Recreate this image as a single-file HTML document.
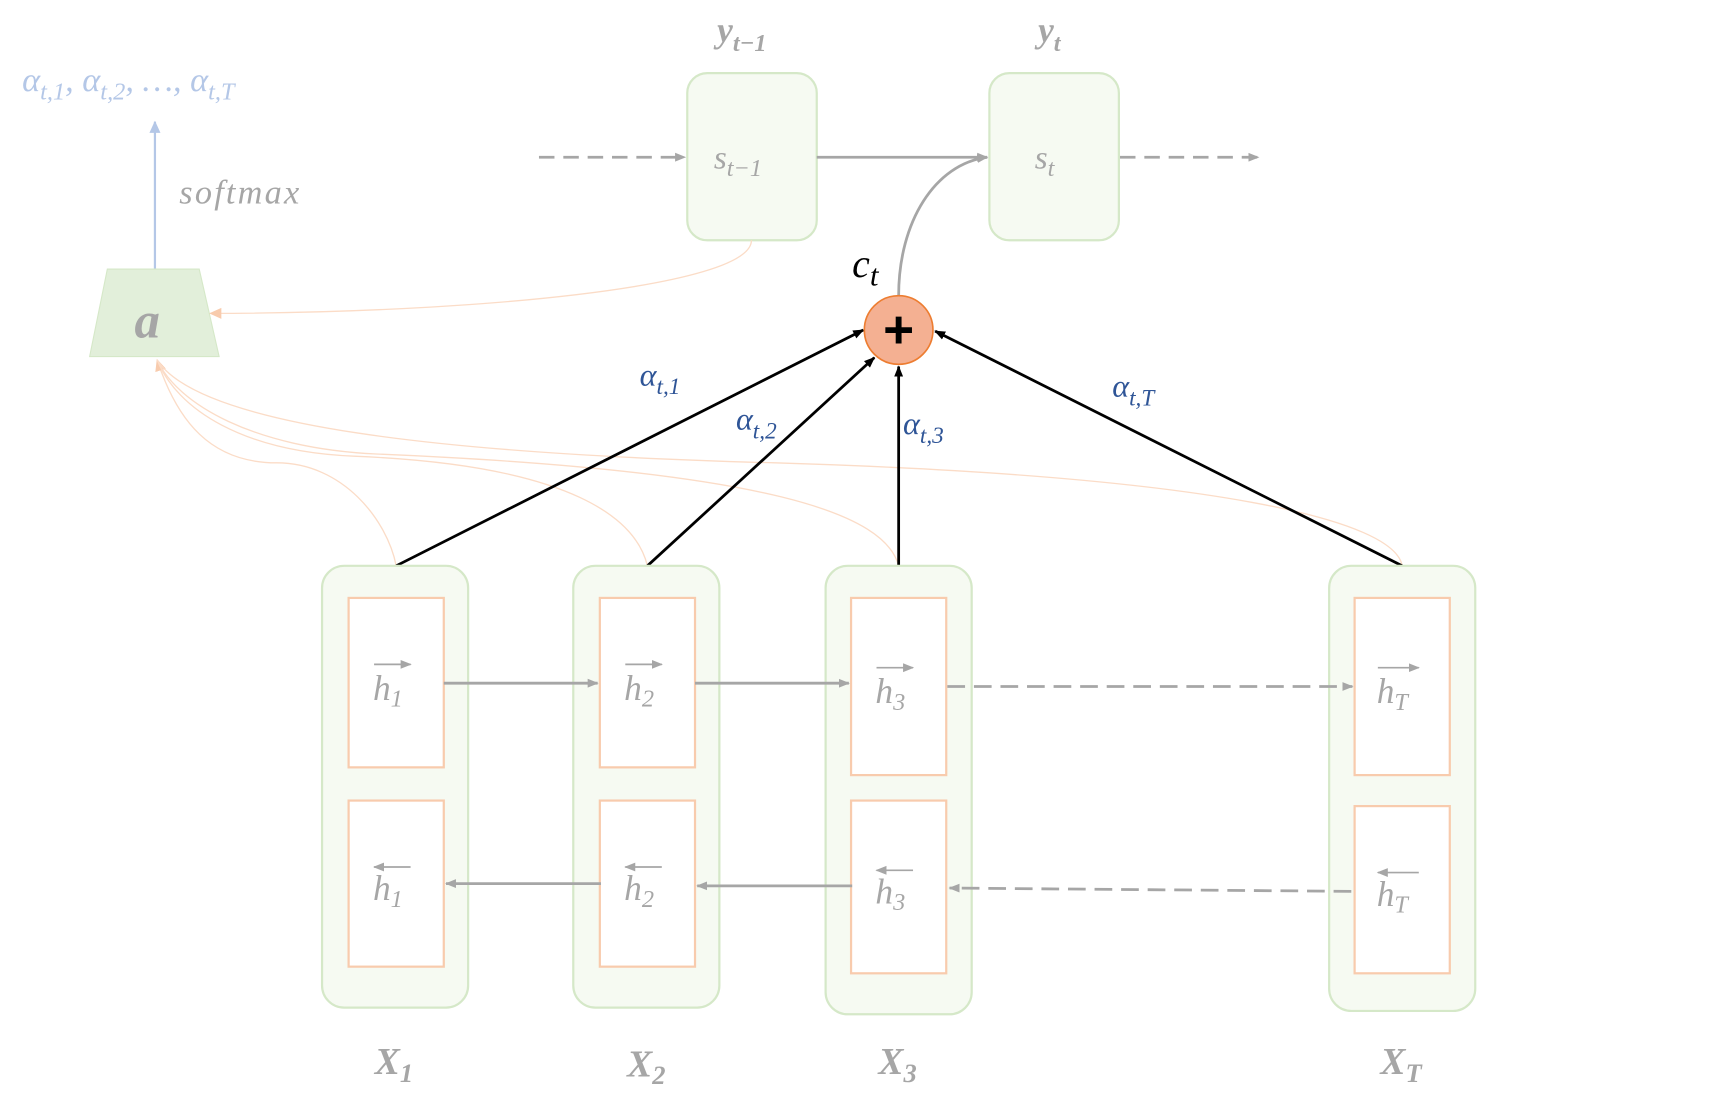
<!DOCTYPE html>
<html><head><meta charset="utf-8"><style>
html,body{margin:0;padding:0;background:#fff;}
svg{display:block;}
text{font-family:"Liberation Serif",serif;font-style:italic;}
</style></head><body>
<svg width="1732" height="1094" viewBox="0 0 1565 988" preserveAspectRatio="none" xmlns="http://www.w3.org/2000/svg">
<defs>
<marker id="ag" markerWidth="10" markerHeight="10" refX="9" refY="5" orient="auto" markerUnits="userSpaceOnUse"><path d="M0,1 L10,5 L0,9 z" fill="#a6a6a6"/></marker>
<marker id="ab" markerWidth="10" markerHeight="10" refX="9" refY="5" orient="auto" markerUnits="userSpaceOnUse"><path d="M0,1 L10,5 L0,9 z" fill="#000"/></marker>
<marker id="ao" markerWidth="12" markerHeight="12" refX="10" refY="6" orient="auto" markerUnits="userSpaceOnUse"><path d="M0,1 L11,6 L0,11 z" fill="#f8cbad"/></marker>
<marker id="al" markerWidth="12" markerHeight="12" refX="10" refY="6" orient="auto" markerUnits="userSpaceOnUse"><path d="M0,1 L11,6 L0,11 z" fill="#b4c7e7"/></marker>
</defs>

<text x="20" y="82" font-size="31" fill="#b4c7e7">α<tspan font-size="22" dy="8">t,1</tspan><tspan dy="-8">, α</tspan><tspan font-size="22" dy="8">t,2</tspan><tspan dy="-8">, …, α</tspan><tspan font-size="22" dy="8">t,T</tspan></text>
<line x1="140" y1="243" x2="140" y2="110" stroke="#b4c7e7" stroke-width="2" marker-end="url(#al)"/>
<text x="162" y="184" font-size="31" fill="#a6a6a6" letter-spacing="2">softmax</text>
<polygon points="97,243 180,243 198,322 81,322" fill="#e2efda" stroke="#d5e8c8"/>
<text x="133" y="305" font-size="46" font-weight="bold" fill="#a6a6a6" text-anchor="middle">a</text>

<rect x="621" y="66" width="117" height="151" rx="18" fill="#f6faf2" stroke="#d5e8c8" stroke-width="2"/>
<rect x="894" y="66" width="117" height="151" rx="18" fill="#f6faf2" stroke="#d5e8c8" stroke-width="2"/>
<text x="645" y="152" font-size="30" fill="#a6a6a6">s<tspan font-size="22" dy="7">t−1</tspan></text>
<text x="935" y="152" font-size="30" fill="#a6a6a6">s<tspan font-size="22" dy="7">t</tspan></text>
<text x="648" y="38" font-size="32" font-weight="bold" fill="#a6a6a6">y<tspan font-size="22" dy="8">t−1</tspan></text>
<text x="938" y="38" font-size="32" font-weight="bold" fill="#a6a6a6">y<tspan font-size="22" dy="8">t</tspan></text>
<line x1="487" y1="142" x2="619" y2="142" stroke="#a6a6a6" stroke-width="2.5" stroke-dasharray="14,8" marker-end="url(#ag)"/>
<line x1="738" y1="142" x2="892" y2="142" stroke="#a6a6a6" stroke-width="2.5" marker-end="url(#ag)"/>
<line x1="1012" y1="142" x2="1137" y2="142" stroke="#a6a6a6" stroke-width="2.5" stroke-dasharray="14,8" marker-end="url(#ag)"/>
<path d="M812,267 C812,200 845,148 892,142" fill="none" stroke="#a6a6a6" stroke-width="2.5" marker-end="url(#ag)"/>

<g fill="none" stroke="#fbdcc7" stroke-width="1.2">
<path d="M679,217 C679,260 420,283 190,283" marker-end="url(#ao)"/>
<path d="M358,511 C350,470 310,418 250,418 C190,418 160,380 142,325" marker-end="url(#ao)"/>
<path d="M585,511 C575,470 520,420 320,412 C220,408 160,370 142,325"/>
<path d="M812,511 C800,465 700,425 340,410 C230,405 160,365 142,325"/>
<path d="M1267,511 C1260,470 1100,430 700,418 C400,410 180,385 142,325"/>
</g>

<line x1="358" y1="511" x2="780" y2="298" stroke="#000" stroke-width="2.5" marker-end="url(#ab)"/>
<line x1="585" y1="511" x2="790" y2="323" stroke="#000" stroke-width="2.5" marker-end="url(#ab)"/>
<line x1="812" y1="511" x2="812" y2="331" stroke="#000" stroke-width="2.5" marker-end="url(#ab)"/>
<line x1="1267" y1="511" x2="845" y2="299" stroke="#000" stroke-width="2.5" marker-end="url(#ab)"/>

<circle cx="812" cy="298" r="31" fill="#f4b092" stroke="#ed7d31" stroke-width="1.5"/>
<text x="812" y="314" font-size="48" font-weight="bold" fill="#000" text-anchor="middle" style="font-family:'Liberation Sans',sans-serif;font-style:normal">+</text>
<text x="770" y="250" font-size="36" fill="#000">c<tspan font-size="28" dy="8">t</tspan></text>

<text x="578" y="348" font-size="29" fill="#2f5597">α<tspan font-size="21" dy="8">t,1</tspan></text>
<text x="665" y="388" font-size="29" fill="#2f5597">α<tspan font-size="21" dy="8">t,2</tspan></text>
<text x="816" y="392" font-size="29" fill="#2f5597">α<tspan font-size="21" dy="8">t,3</tspan></text>
<text x="1005" y="358" font-size="29" fill="#2f5597">α<tspan font-size="21" dy="8">t,T</tspan></text>

<g fill="#f6faf2" stroke="#d5e8c8" stroke-width="2">
<rect x="291" y="511" width="132" height="399" rx="20"/>
<rect x="518" y="511" width="132" height="399" rx="20"/>
<rect x="746" y="511" width="132" height="405" rx="20"/>
<rect x="1201" y="511" width="132" height="402" rx="20"/>
</g>
<g fill="#fff" stroke="#f8cbad" stroke-width="2">
<rect x="315" y="540" width="86" height="153"/><rect x="315" y="723" width="86" height="150"/>
<rect x="542" y="540" width="86" height="153"/><rect x="542" y="723" width="86" height="150"/>
<rect x="769" y="540" width="86" height="160"/><rect x="769" y="723" width="86" height="156"/>
<rect x="1224" y="540" width="86" height="160"/><rect x="1224" y="728" width="86" height="151"/>
</g>
<g fill="#a6a6a6" font-size="32">
<text x="337" y="632">h<tspan font-size="22" dy="6">1</tspan></text>
<text x="564" y="632">h<tspan font-size="22" dy="6">2</tspan></text>
<text x="791" y="635">h<tspan font-size="22" dy="6">3</tspan></text>
<text x="1244" y="635">h<tspan font-size="22" dy="6">T</tspan></text>
<text x="337" y="813">h<tspan font-size="22" dy="6">1</tspan></text>
<text x="564" y="813">h<tspan font-size="22" dy="6">2</tspan></text>
<text x="791" y="816">h<tspan font-size="22" dy="6">3</tspan></text>
<text x="1244" y="818">h<tspan font-size="22" dy="6">T</tspan></text>
</g>
<g stroke="#a6a6a6" stroke-width="1.5">
<line x1="338" y1="600" x2="371" y2="600" marker-end="url(#ag)"/>
<line x1="565" y1="600" x2="598" y2="600" marker-end="url(#ag)"/>
<line x1="792" y1="603" x2="825" y2="603" marker-end="url(#ag)"/>
<line x1="1245" y1="603" x2="1282" y2="603" marker-end="url(#ag)"/>
<line x1="371" y1="783" x2="338" y2="783" marker-end="url(#ag)"/>
<line x1="598" y1="783" x2="565" y2="783" marker-end="url(#ag)"/>
<line x1="825" y1="786" x2="792" y2="786" marker-end="url(#ag)"/>
<line x1="1282" y1="788" x2="1245" y2="788" marker-end="url(#ag)"/>
</g>
<line x1="401" y1="617" x2="540" y2="617" stroke="#a6a6a6" stroke-width="2.5" marker-end="url(#ag)"/>
<line x1="628" y1="617" x2="767" y2="617" stroke="#a6a6a6" stroke-width="2.5" marker-end="url(#ag)"/>
<line x1="856" y1="620" x2="1222" y2="620" stroke="#a6a6a6" stroke-width="2.5" stroke-dasharray="16,8" marker-end="url(#ag)"/>
<line x1="543" y1="798" x2="403" y2="798" stroke="#a6a6a6" stroke-width="2.5" marker-end="url(#ag)"/>
<line x1="770" y1="800" x2="630" y2="800" stroke="#a6a6a6" stroke-width="2.5" marker-end="url(#ag)"/>
<line x1="1221" y1="805" x2="858" y2="802" stroke="#a6a6a6" stroke-width="2.5" stroke-dasharray="16,8" marker-end="url(#ag)"/>

<g fill="#a6a6a6" font-size="34" font-weight="bold" text-anchor="middle">
<text x="356" y="970">X<tspan font-size="24" dy="7">1</tspan></text>
<text x="584" y="972">X<tspan font-size="24" dy="7">2</tspan></text>
<text x="811" y="970">X<tspan font-size="24" dy="7">3</tspan></text>
<text x="1266" y="970">X<tspan font-size="24" dy="7">T</tspan></text>
</g>
</svg>
</body></html>
